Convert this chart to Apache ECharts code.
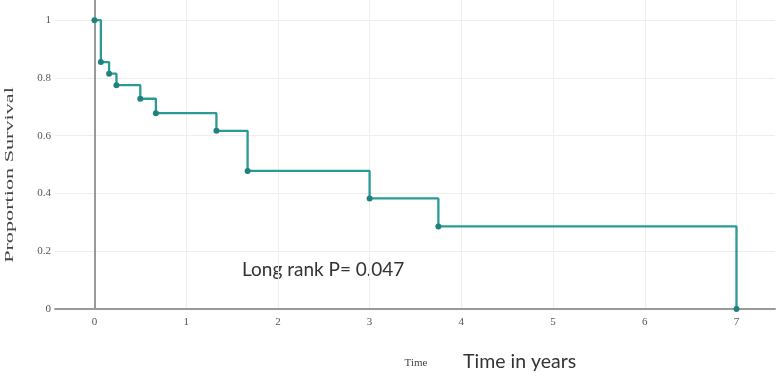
<!DOCTYPE html>
<html>
<head>
<meta charset="utf-8">
<script src="https://cdn.jsdelivr.net/npm/echarts@6/dist/echarts.min.js"></script>
<style>
  html, body { margin: 0; padding: 0; background: #fff; }
  #chart { width: 777px; height: 376px; }
</style>
</head>
<body>
<div id="chart"></div>
<script>
// Kaplan-Meier steps (time in years, survival proportion)
const times = [0, 0.07, 0.16, 0.24, 0.5, 0.67, 1.33, 1.67, 3.0, 3.75, 7.0]
const survival = [1, 0.855, 0.815, 0.775, 0.728, 0.678, 0.617, 0.478, 0.383, 0.286, 0]
const xTicks = [0, 1, 2, 3, 4, 5, 6, 7]
const yTicks = [0, 0.2, 0.4, 0.6, 0.8, 1]

const teal = '#2a9a95'
const serif = '"Liberation Serif", "DejaVu Serif", serif'

const chart = echarts.init(document.getElementById('chart'))

const points = times.map((t, i) => [t, survival[i]])

chart.setOption({
  animation: false,
  grid: { left: 55, right: 2, top: 0, bottom: 67 },
  xAxis: {
    type: 'value',
    min: -0.43,
    max: 7.42,
    splitNumber: 8,
    axisLine: { show: true, onZero: false, lineStyle: { color: '#9a9a9a', width: 2 } },
    axisTick: { show: false },
    axisLabel: {
      margin: 8,
      color: '#555',
      fontFamily: serif,
      fontSize: 11,
      customValues: xTicks
    },
    splitLine: { show: true, showMinLine: false, showMaxLine: false, lineStyle: { color: '#eeeeee' } }
  },
  yAxis: {
    type: 'value',
    min: 0,
    max: 1.07,
    interval: 0.2,
    axisLine: { show: false },
    axisTick: { show: false },
    axisLabel: {
      margin: 4,
      color: '#555',
      fontFamily: serif,
      fontSize: 11,
      customValues: yTicks,
      formatter: v => (v === 0 || v === 1) ? String(v) : v.toFixed(1)
    },
    splitLine: { show: true, showMinLine: false, showMaxLine: false, lineStyle: { color: '#eeeeee' } }
  },
  series: [{
    type: 'line',
    step: 'end',
    data: points,
    showSymbol: true,
    symbol: 'circle',
    symbolSize: 6,
    lineStyle: { color: teal, width: 2.3 },
    itemStyle: { color: '#1f827d' },
    markLine: {
      silent: true,
      symbol: 'none',
      label: { show: false },
      lineStyle: { color: '#9a9a9a', width: 2, type: 'solid' },
      data: [{ xAxis: 0 }]
    },
    z: 5
  }],
  graphic: [
    {
      type: 'text',
      x: 10,
      y: 175,
      rotation: Math.PI / 2,
      scaleX: 1.85,
      style: {
        text: 'Proportion Survival',
        font: '12px ' + serif,
        fill: '#444',
        align: 'center',
        verticalAlign: 'middle'
      }
    },
    {
      type: 'text',
      x: 416,
      y: 363,
      style: {
        text: 'Time',
        font: '11px ' + serif,
        fill: '#444',
        align: 'center',
        verticalAlign: 'middle'
      }
    },
    {
      type: 'text',
      x: 463,
      y: 362,
      style: {
        text: 'Time in years',
        font: '19.5px Lato, "Open Sans", sans-serif',
        fill: '#333',
        align: 'left',
        verticalAlign: 'middle'
      }
    },
    {
      type: 'text',
      x: 242,
      y: 270,
      style: {
        text: 'Long rank P= 0.047',
        font: '19px Lato, "Open Sans", sans-serif',
        fill: '#333',
        align: 'left',
        verticalAlign: 'middle'
      }
    }
  ]
})
</script>
</body>
</html>
